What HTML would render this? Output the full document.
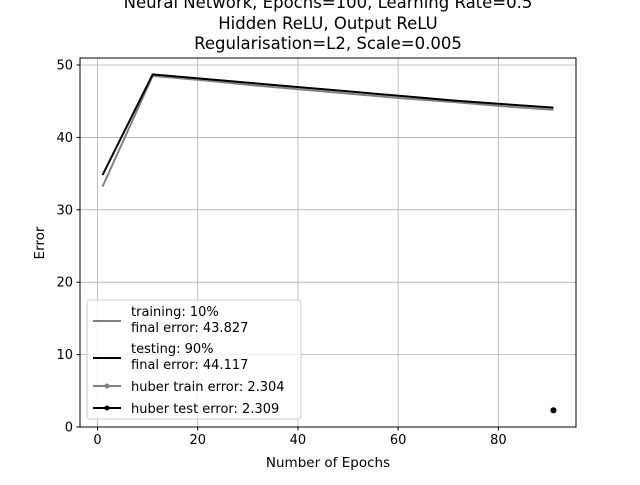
<!DOCTYPE html>
<html><head><meta charset="utf-8"><style>
body{margin:0;background:#fff;}
svg text{font-family:"DejaVu Sans","Liberation Sans",sans-serif;}
</style></head><body>
<svg id="chart" width="640" height="480" viewBox="0 0 640 480" xmlns="http://www.w3.org/2000/svg">
<rect width="640" height="480" fill="#fff"/>
<g font-size="16.5" text-anchor="middle" fill="#000">
<text x="328" y="8">Neural Network, Epochs=100, Learning Rate=0.5</text>
<text x="328" y="29">Hidden ReLU, Output ReLU</text>
<text x="328" y="49">Regularisation=L2, Scale=0.005</text>
</g>
<g id="grid"></g>
<g id="series"></g>
<rect x="80" y="58" width="496" height="369" fill="none" stroke="#000" stroke-width="1"/>
<g id="ticks" font-size="13" fill="#000"></g>
<text x="328" y="467" font-size="13.5" text-anchor="middle">Number of Epochs</text>
<text transform="translate(44,243) rotate(-90)" font-size="13.5" text-anchor="middle">Error</text>
<g>
<rect x="87" y="300" width="214" height="119" rx="3" fill="#fff" fill-opacity="0.8" stroke="#ccc"/>
<line x1="93" y1="321" x2="121" y2="321" stroke="#808080" stroke-width="2"/>
<text x="131" y="316" font-size="13">training: 10%</text>
<text x="131" y="332" font-size="13">final error: 43.827</text>
<line x1="93" y1="358" x2="121" y2="358" stroke="#000" stroke-width="2"/>
<text x="131" y="353" font-size="13">testing: 90%</text>
<text x="131" y="369" font-size="13">final error: 44.117</text>
<line x1="93" y1="386" x2="121" y2="386" stroke="#808080" stroke-width="2"/>
<circle cx="107" cy="386" r="2.5" fill="#808080"/>
<text x="131" y="391" font-size="13">huber train error: 2.304</text>
<line x1="93" y1="408" x2="121" y2="408" stroke="#000" stroke-width="2"/>
<circle cx="107" cy="408" r="2.5" fill="#000"/>
<text x="131" y="413" font-size="13">huber test error: 2.309</text>
</g>
</svg>
<script>
const epochs=[1,11,21,31,41,51,61,71,81,91];
const trainErr=[33.2,48.5,47.9,47.2,46.6,46.0,45.4,44.9,44.3,43.827];
const testErr=[34.8,48.7,48.1,47.5,46.9,46.3,45.7,45.1,44.6,44.117];
const huberEpochs=[91];
const huberTrain=[2.304];
const huberTest=[2.309];
const xTicks=[0,20,40,60,80];
const yTicks=[0,10,20,30,40,50];
const X0=80,X1=576,Y0=427,Y1=58,xmin=-3.5,xmax=95.5,ymin=0,ymax=50.97;
const sx=v=>X0+(v-xmin)/(xmax-xmin)*(X1-X0);
const sy=v=>Y0-(v-ymin)/(ymax-ymin)*(Y0-Y1);
const NS="http://www.w3.org/2000/svg";
function mk(tag,attrs,parent){const e=document.createElementNS(NS,tag);for(const k in attrs)e.setAttribute(k,attrs[k]);parent.appendChild(e);return e;}
const grid=document.getElementById('grid'),ticks=document.getElementById('ticks'),series=document.getElementById('series');
xTicks.forEach(t=>{const x=sx(t);
 const g=mk('line',{x1:x,x2:x,y1:Y1,y2:Y0,stroke:'#b0b0b0','stroke-width':0.8},grid);
 
 
 mk('line',{x1:x,x2:x,y1:Y0,y2:Y0+3.5,stroke:'#000'},ticks);
 const tx=mk('text',{x:x,y:Y0+17,'text-anchor':'middle'},ticks);tx.textContent=t;
 
 
});
yTicks.forEach(t=>{const y=sy(t);
 const g=mk('line',{x1:X0,x2:X1,y1:y,y2:y,stroke:'#b0b0b0','stroke-width':0.8},grid);
 
 
 mk('line',{x1:X0-3.5,x2:X0,y1:y,y2:y,stroke:'#000'},ticks);
 const tx=mk('text',{x:X0-7,y:y+4.5,'text-anchor':'end'},ticks);tx.textContent=t;
 
 
});
function line(xs,ys,color,name){
 const p=mk('polyline',{points:xs.map((x,i)=>sx(x)+','+sy(ys[i])).join(' '),fill:'none',stroke:color,'stroke-width':2},series);
 
 
}
line(epochs,trainErr,'#808080','training-line');
line(epochs,testErr,'#000','testing-line');
huberEpochs.forEach((e,i)=>{
 const a=mk('circle',{cx:sx(e),cy:sy(huberTrain[i]),r:3,fill:'#808080'},series);
 
 
 const b=mk('circle',{cx:sx(e),cy:sy(huberTest[i]),r:3,fill:'#000'},series);
 
 
});
</script>
</body></html>
